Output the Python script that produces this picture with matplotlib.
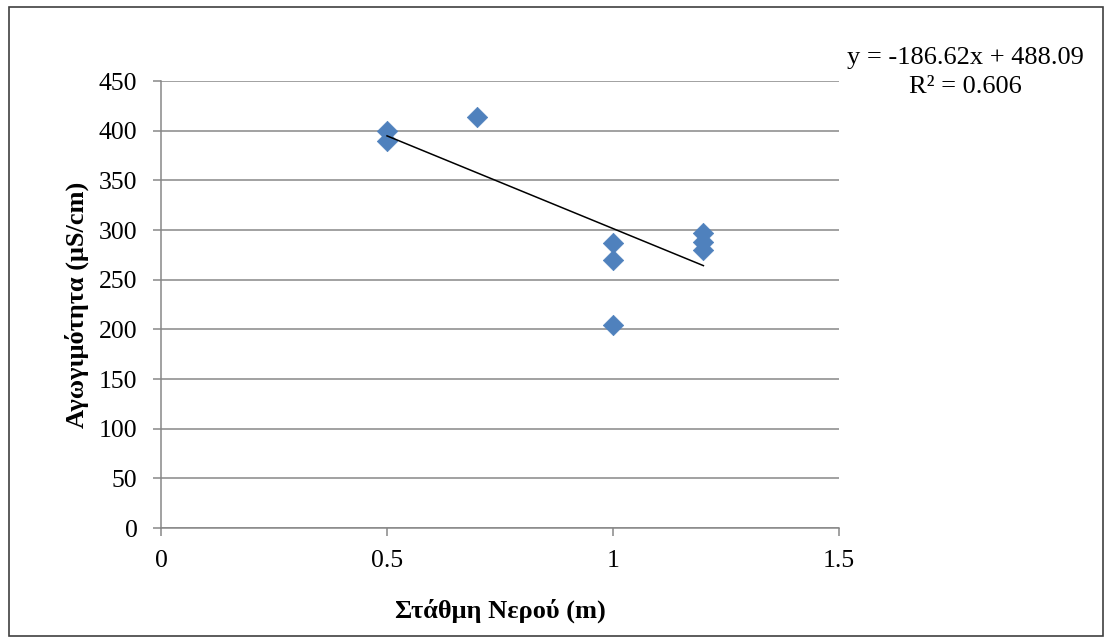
import matplotlib.pyplot as plt
import numpy as np
from matplotlib.patches import Rectangle

# water level (m) and conductivity (uS/cm) samples
level = [0.5, 0.5, 0.7, 1.0, 1.0, 1.0, 1.2, 1.2, 1.2]
conductivity = [400, 390, 414, 287, 270, 204, 297, 288, 280]

# linear trendline as reported
slope = -186.62
intercept = 488.09
r2 = 0.606

y_ticks = [0, 50, 100, 150, 200, 250, 300, 350, 400, 450]
x_ticks = [0, 0.5, 1, 1.5]
x_tick_labels = ['0', '0.5', '1', '1.5']

plt.rcParams['font.family'] = ['Liberation Serif', 'DejaVu Serif']

fig = plt.figure(figsize=(11.12, 6.44), dpi=100)
ax = fig.add_axes([0.1448, 0.1801, 0.6097, 0.6941])

grid_col = '#878787'
ax.set_xlim(0, 1.5)
ax.set_ylim(0, 450)
ax.set_yticks(y_ticks)
ax.set_xticks(x_ticks)
ax.set_xticklabels(x_tick_labels)
ax.yaxis.grid(True, color=grid_col, linewidth=1.1)
ax.set_axisbelow(True)

for side in ['top', 'right']:
    ax.spines[side].set_visible(False)
for side in ['left', 'bottom']:
    ax.spines[side].set_color(grid_col)
    ax.spines[side].set_linewidth(1.1)
ax.tick_params(axis='both', colors=grid_col, length=6, width=1.1,
               labelsize=18.5, labelcolor='black')
ax.tick_params(axis='x', pad=10)
ax.tick_params(axis='y', pad=11)

ax.scatter(level, conductivity, marker='D', s=108, color='#4F81BD',
           edgecolors='#4F81BD', linewidths=0.5, zorder=3)

xs = np.array([min(level), max(level)])
ax.plot(xs, slope * xs + intercept, color='black', linewidth=1.1, zorder=4)

ax.set_xlabel('Στάθμη Νερού (m)', fontsize=19, fontweight='bold', labelpad=19)
ax.set_ylabel('Αγωγιμότητα (μS/cm)', fontsize=19, fontweight='bold', labelpad=7)

fig.text(0.868, 0.888, 'y = -186.62x + 488.09\nR² = %.3f' % r2,
         fontsize=19, ha='center', va='center', linespacing=1.4)

# outer chart border
fig.patches.append(Rectangle((0.008, 0.012), 0.984, 0.977, transform=fig.transFigure,
                             fill=False, edgecolor='#404040', linewidth=1.2))

fig.savefig('out.png', dpi=100)
